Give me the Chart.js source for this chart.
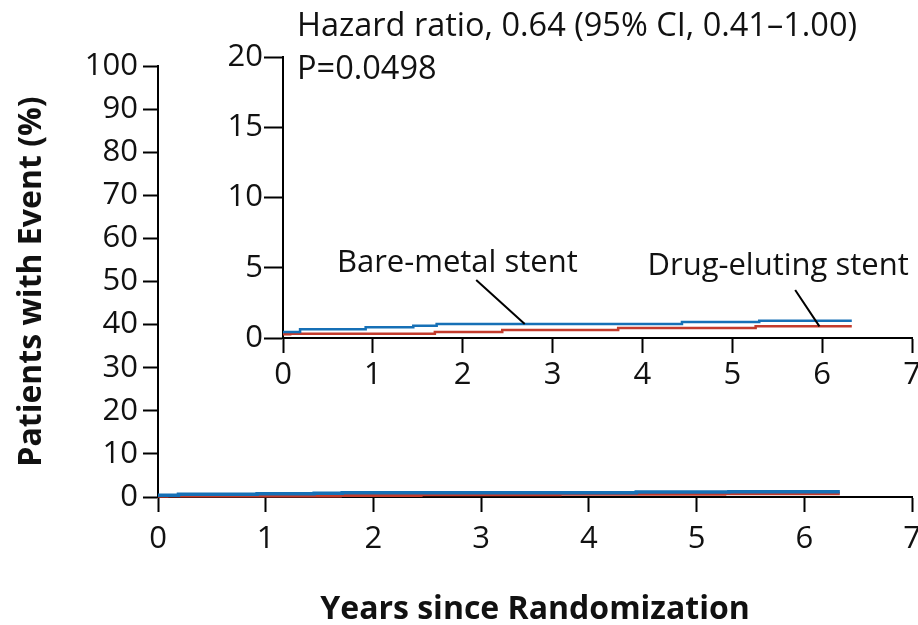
<!DOCTYPE html>
<html>
<head>
<meta charset="utf-8">
<script src="https://cdn.jsdelivr.net/npm/chart.js@4.4.0/dist/chart.umd.min.js"></script>
<style>
  html, body { margin: 0; background: #fff; }
  #wrap { position: relative; width: 918px; height: 625px; }
  #wrap canvas { position: absolute; left: 0; top: 0; }
</style>
</head>
<body>
<div id="wrap">
  <canvas id="mainChart" width="918" height="625"></canvas>
  <canvas id="insetChart" width="918" height="625"></canvas>
</div>
<script>
// Kaplan-Meier step data (years, % of patients with event)
const bmsYears = [0, 0.19, 0.92, 1.45, 1.71, 4.44, 5.30, 6.33];
const bmsPct   = [0.43, 0.62, 0.76, 0.88, 1.00, 1.14, 1.23, 1.23];
const desYears = [0, 0.08, 1.69, 2.44, 3.73, 5.26, 6.33];
const desPct   = [0.26, 0.31, 0.43, 0.57, 0.71, 0.83, 0.83];

const yearTicks  = [0, 1, 2, 3, 4, 5, 6, 7];
const mainTicks  = [0, 10, 20, 30, 40, 50, 60, 70, 80, 90, 100];
const insetTicks = [0, 5, 10, 15, 20];

const hrText = 'Hazard ratio, 0.64 (95% CI, 0.41\u20131.00)';
const pText = 'P=0.0498';

const BLUE = '#1670b6';
const RED = '#c33b2c';
const INK = '#111';
const FONT = '"Open Sans"';

Chart.defaults.font.family = FONT;
Chart.defaults.color = INK;

function pts(xs, ys) { return xs.map((x, i) => ({ x, y: ys[i] })); }

function series(width) {
  return [
    { label: 'Bare-metal stent', data: pts(bmsYears, bmsPct), borderColor: BLUE,
      borderWidth: width, stepped: true, pointRadius: 0, clip: false },
    { label: 'Drug-eluting stent', data: pts(desYears, desPct), borderColor: RED,
      borderWidth: width, stepped: true, pointRadius: 0, clip: false }
  ];
}

// fixed box size, no extra room reserved for overhanging tick labels
function fixSize(prop, size) {
  return s => {
    s[prop] = size;
    s.paddingLeft = s.paddingRight = s.paddingTop = s.paddingBottom = 0;
  };
}

function axis(min, max, values, opts) {
  return {
    type: 'linear', min, max,
    afterBuildTicks: s => { s.ticks = values.map(v => ({ value: v })); },
    afterFit: opts.fit,
    ticks: { color: INK, font: { size: 31 }, padding: opts.pad },
    grid: { drawOnChartArea: false, drawTicks: true, tickLength: opts.tick,
            tickWidth: 2, tickColor: '#000' },
    border: { display: true, color: '#000', width: 2 },
    title: opts.title || { display: false }
  };
}

// main chart, 0-100 %
new Chart(document.getElementById('mainChart'), {
  type: 'line',
  data: { datasets: series(3.5) },
  options: {
    responsive: false, animation: false,
    layout: { autoPadding: false, padding: { top: 66, right: 6, left: 0, bottom: 0 } },
    plugins: { legend: { display: false }, tooltip: { enabled: false } },
    scales: {
      x: axis(0, 7, yearTicks, {
        fit: fixSize('height', 128), pad: 9, tick: 15,
        title: { display: true, text: 'Years since Randomization', color: INK,
                 font: { size: 32, weight: 'bold' }, padding: { top: 0, bottom: -4 } }
      }),
      y: axis(0, 100, mainTicks, {
        fit: fixSize('width', 158), pad: 5, tick: 15,
        title: { display: true, text: 'Patients with Event (%)', color: INK,
                 font: { size: 32, weight: 'bold' }, padding: { top: 13, bottom: 0 } }
      })
    }
  }
});

// labels, leader lines and statistics for the zoomed inset
const insetNotes = {
  id: 'insetNotes',
  afterDatasetsDraw(chart) {
    const { ctx, chartArea, scales: { x, y } } = chart;
    ctx.save();
    ctx.fillStyle = INK;
    ctx.textBaseline = 'middle';
    ctx.textAlign = 'left';
    ctx.font = '32.5px ' + FONT;
    ctx.fillText(hrText, chartArea.left + 14, 27);
    ctx.fillText(pText, chartArea.left + 14, 70);

    ctx.font = '31px ' + FONT;
    ctx.textAlign = 'center';
    ctx.fillText('Bare-metal stent', x.getPixelForValue(1.94), y.getPixelForValue(5.34));
    ctx.fillText('Drug-eluting stent', x.getPixelForValue(5.51), y.getPixelForValue(5.12));

    ctx.strokeStyle = '#000';
    ctx.lineWidth = 2;
    ctx.beginPath();
    ctx.moveTo(x.getPixelForValue(2.15), y.getPixelForValue(4.13));
    ctx.lineTo(x.getPixelForValue(2.69), y.getPixelForValue(1.00));
    ctx.moveTo(x.getPixelForValue(5.70), y.getPixelForValue(3.42));
    ctx.lineTo(x.getPixelForValue(5.97), y.getPixelForValue(0.83));
    ctx.stroke();
    ctx.restore();
  }
};

// inset, 0-20 %
new Chart(document.getElementById('insetChart'), {
  type: 'line',
  data: { datasets: series(2.5) },
  options: {
    responsive: false, animation: false,
    layout: { autoPadding: false, padding: { top: 57, right: 6, left: 0, bottom: 0 } },
    plugins: { legend: { display: false }, tooltip: { enabled: false } },
    scales: {
      x: axis(0, 7, yearTicks, { fit: fixSize('height', 287), pad: 4, tick: 15 }),
      y: axis(0, 20, insetTicks, { fit: fixSize('width', 283), pad: 1, tick: 19 })
    }
  },
  plugins: [insetNotes]
});
</script>
</body>
</html>
